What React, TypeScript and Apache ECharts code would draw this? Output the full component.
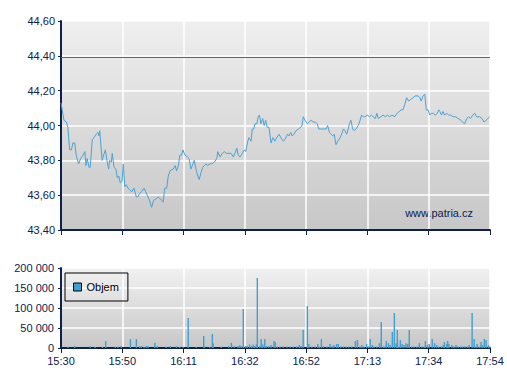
import React, { useEffect, useRef } from "react";
import * as echarts from "echarts";

const timeLabels = ["15:30", "15:50", "16:11", "16:32", "16:52", "17:13", "17:34", "17:54"];
const sessionMinutes = 144;
const prevClose = 44.39;
const watermark = "www.patria.cz";
const volumeName = "Objem";

// minutes after 15:30
const priceTimes = [
  0, 1.0, 1.8, 2.3, 2.9, 3.5, 4.0, 4.6, 5.1, 5.9, 6.6, 7.4, 8.0, 8.4, 8.8, 9.4, 9.8, 10.5, 11.1, 11.8,
  12.4, 12.7, 13.0, 13.8, 14.3, 14.9, 15.4, 16.0, 16.3, 16.9, 17.2, 17.8, 18.4, 18.9, 19.4, 19.9, 20.5, 20.9, 21.4, 21.9,
  22.5, 23.1, 23.8, 24.5, 25.3, 25.8, 26.4, 27.0, 27.9, 28.4, 29.2, 29.9, 30.4, 31.1, 32.0, 32.6, 33.2, 33.9, 34.3, 34.8,
  35.5, 36.0, 36.6, 37.7, 38.3, 38.8, 39.4, 39.9, 40.5, 40.9, 41.6, 42.4, 43.0, 43.6, 44.1, 44.7, 45.3, 45.9, 46.4, 47.0,
  47.6, 48.1, 48.7, 49.2, 50.0, 50.6, 51.5, 52.3, 52.6, 53.4, 54.1, 54.8, 55.6, 56.4, 57.1, 57.8, 58.4, 59.0, 59.5, 60.1,
  60.9, 61.5, 62.0, 62.7, 63.1, 63.8, 64.2, 64.7, 65.1, 65.7, 66.2, 66.6, 67.1, 67.7, 68.2, 68.7, 69.2, 69.8, 70.5, 71.1,
  71.8, 72.4, 73.2, 73.8, 74.6, 75.2, 76.0, 76.5, 77.1, 77.6, 78.2, 78.9, 79.7, 80.5, 80.9, 81.3, 81.9, 82.7, 83.3, 84.0,
  84.7, 85.4, 86.0, 86.5, 87.5, 88.3, 89.0, 89.5, 90.1, 90.6, 91.2, 91.7, 92.3, 92.9, 93.7, 94.2, 94.8, 95.3, 95.9, 96.4,
  96.8, 97.3, 97.9, 98.4, 99.0, 99.8, 100.4, 100.9, 101.5, 102.1, 102.8, 103.5, 104.2, 104.8, 105.5, 106.0, 106.5, 107.3, 108.1, 108.9,
  109.5, 110.3, 111.1, 112.0, 112.8, 113.5, 114.2, 114.8, 115.4, 116.0, 116.7, 117.4, 118.2, 118.9, 119.8, 120.5, 120.9, 121.5, 122.1, 122.6,
  123.2, 123.8, 124.3, 125.0, 125.6, 126.3, 126.8, 127.2, 127.7, 128.2, 128.8, 129.5, 130.1, 130.8, 131.6, 132.4, 133.3, 134.2, 134.8, 135.5,
  136.2, 136.9, 137.5, 138.2, 138.9, 139.5, 140.5, 141.3, 142.0, 142.7, 143.3, 143.9,
];
const priceValues = [
  44.13, 44.03, 44.02, 43.99, 43.86, 43.86, 43.9, 43.9, 43.83, 43.78, 43.81, 43.83, 43.85, 43.77, 43.81, 43.76, 43.76, 43.92, 43.93, 43.95,
  43.96, 43.94, 43.97, 43.8, 43.83, 43.86, 43.8, 43.75, 43.8, 43.79, 43.84, 43.76, 43.75, 43.7, 43.71, 43.67, 43.68, 43.78, 43.65, 43.66,
  43.64, 43.63, 43.62, 43.64, 43.59, 43.59, 43.61, 43.62, 43.64, 43.62, 43.59, 43.56, 43.53, 43.57, 43.58, 43.59, 43.58, 43.57, 43.56, 43.64,
  43.64, 43.71, 43.74, 43.75, 43.77, 43.74, 43.77, 43.83, 43.83, 43.86, 43.83, 43.82, 43.81, 43.75, 43.77, 43.8, 43.75, 43.71, 43.69, 43.73,
  43.76, 43.77, 43.78, 43.77, 43.78, 43.78, 43.79, 43.81, 43.85, 43.82, 43.84, 43.85, 43.84, 43.84, 43.84, 43.82, 43.84, 43.87, 43.83, 43.82,
  43.84, 43.86, 43.85, 43.91, 43.93, 43.91, 43.98, 43.98, 44.01, 44.01, 44.05, 44.06, 44.01, 44.04, 44.0, 44.03, 43.99, 43.99, 43.9, 43.93,
  43.91, 43.93, 43.95, 43.93, 43.91, 43.92, 43.95, 43.94, 43.96, 43.94, 43.95, 43.97, 43.98, 43.99, 44.0, 44.05, 44.03, 44.01, 44.02, 44.03,
  44.02, 44.02, 44.01, 43.98, 43.98, 43.98, 43.98, 44.0, 43.96, 43.95, 43.94, 43.95, 43.89, 43.91, 43.93, 43.95, 43.98, 43.97, 43.95, 43.98,
  44.01, 44.03, 43.98, 43.97, 43.98, 44.0, 44.03, 44.06, 44.05, 44.05, 44.06, 44.05, 44.06, 44.05, 44.04, 44.07, 44.04, 44.05, 44.06, 44.05,
  44.06, 44.05, 44.06, 44.05, 44.07, 44.08, 44.09, 44.09, 44.12, 44.16, 44.14, 44.15, 44.16, 44.17, 44.17, 44.16, 44.14, 44.17, 44.18, 44.09,
  44.09, 44.06, 44.07, 44.07, 44.06, 44.07, 44.09, 44.08, 44.06, 44.08, 44.06, 44.07, 44.06, 44.06, 44.05, 44.05, 44.04, 44.03, 44.02, 44.01,
  44.04, 44.05, 44.04, 44.06, 44.07, 44.05, 44.05, 44.04, 44.02, 44.03, 44.04, 44.05,
];

const volTimes = [
  2.3, 4.6, 9.8, 11.5, 13.9, 15.0, 18.2, 19.1, 20.2, 23.3, 25.3, 26.4, 27.0, 27.9, 28.6, 29.2, 31.5, 32.3, 35.3, 36.7,
  38.7, 39.8, 41.0, 42.7, 45.4, 47.9, 48.2, 49.9, 50.8, 51.1, 53.8, 56.3, 57.2, 58.1, 59.4, 60.0, 60.5, 61.2, 61.9, 62.5,
  63.3, 63.9, 64.5, 65.0, 65.6, 65.9, 66.7, 67.2, 67.7, 68.4, 68.9, 69.7, 70.5, 71.5, 71.9, 72.6, 73.5, 74.6, 75.8, 76.9,
  78.0, 79.1, 80.0, 80.6, 81.3, 82.7, 83.2, 84.2, 85.3, 86.2, 86.7, 87.4, 88.1, 89.2, 90.3, 91.0, 91.6, 92.5, 93.1, 93.9,
  94.8, 95.7, 96.6, 97.6, 98.8, 99.5, 100.4, 101.0, 101.7, 102.6, 103.2, 103.8, 104.5, 105.1, 106.0, 106.9, 107.5, 108.2, 108.7, 109.2,
  109.9, 110.5, 111.2, 111.9, 112.5, 112.9, 113.4, 113.9, 114.5, 115.1, 115.8, 116.4, 116.9, 117.7, 118.5, 119.4, 120.3, 121.1, 121.9, 122.3,
  123.0, 123.6, 124.6, 125.4, 126.1, 126.8, 127.7, 128.3, 128.7, 129.5, 129.8, 130.2, 131.2, 131.9, 132.6, 133.4, 134.2, 134.8, 135.6, 136.4,
  137.0, 138.0, 138.7, 139.3, 139.7, 140.4, 141.0, 141.6, 142.1, 142.7, 143.5, 144.0,
];
const volValues = [
  3000, 5000, 5000, 3000, 3000, 17500, 3000, 3000, 5000, 22500, 22500, 5000, 5000, 3000, 5000, 5000, 13000, 5000, 3000, 5000,
  5000, 3000, 3000, 75000, 3000, 30000, 5000, 3000, 35000, 11000, 3000, 5000, 13000, 5000, 5000, 7000, 5000, 97500, 5000, 5000,
  9000, 5000, 9000, 5000, 9000, 175000, 5000, 22500, 9000, 22500, 5000, 5000, 7500, 17500, 15000, 4000, 4000, 4000, 4000, 4000,
  4000, 4000, 7500, 5000, 45000, 105000, 10000, 4000, 4000, 10000, 4000, 22500, 4000, 4000, 10000, 5000, 7500, 10000, 10000, 4000,
  4000, 4000, 4000, 4000, 17500, 20000, 4000, 7500, 4000, 10000, 4000, 22500, 7500, 4000, 4000, 12000, 65000, 4000, 4000, 17500,
  12000, 7500, 40000, 87500, 12000, 45000, 4000, 20000, 10000, 7500, 12000, 10000, 45000, 4000, 4000, 4000, 12000, 4000, 4000, 17500,
  7500, 10000, 22500, 12000, 7500, 4000, 4000, 7500, 15000, 10000, 17500, 10000, 7500, 4000, 7500, 4000, 4000, 4000, 4000, 4000,
  7500, 87500, 22500, 4000, 10000, 4000, 15000, 7500, 22500, 20000, 7500, 4000,
];

const navy = "#0c2150";
const font = 'Arial, "Liberation Sans", sans-serif';

export default function App() {
  const ref = useRef<HTMLDivElement>(null);
  useEffect(() => {
    if (!ref.current) return;
    const chart = echarts.init(ref.current, undefined, { renderer: "svg" });
    const step = sessionMinutes / (timeLabels.length - 1);
    const fmtTime = (v: number) => timeLabels[Math.round(v / step)] ?? "";
    const grad = (a: string, b: string) =>
      new echarts.graphic.LinearGradient(0, 0, 0, 1, [
        { offset: 0, color: a },
        { offset: 1, color: b },
      ]);
    const xBase = {
      type: "value",
      min: 0,
      max: sessionMinutes,
      interval: step,
      axisLine: { show: true, onZero: false, lineStyle: { color: navy, width: 2 } },
      axisTick: { show: true, length: 5, lineStyle: { color: navy, width: 1 } },
      splitLine: { show: true, lineStyle: { color: "#ffffff", width: 1.5 } },
    };
    const yBase = {
      type: "value",
      axisLine: { show: true, onZero: false, lineStyle: { color: navy, width: 2 } },
      axisTick: { show: true, length: 3, lineStyle: { color: navy, width: 1 } },
      splitLine: { show: true, lineStyle: { color: "#ffffff", width: 1.5 } },
    };
    chart.setOption({
      animation: false,
      textStyle: { fontFamily: font },
      grid: [
        { left: 61, right: 17, top: 21, height: 209, show: true, borderWidth: 0, backgroundColor: grad("#efefef", "#c7c7c7") },
        { left: 61, right: 17, top: 268, height: 80, show: true, borderWidth: 0, backgroundColor: grad("#f1f1f1", "#c7c7c7") },
      ],
      xAxis: [
        { ...xBase, gridIndex: 0, axisLabel: { show: false } },
        {
          ...xBase,
          gridIndex: 1,
          axisLabel: { show: true, formatter: fmtTime, color: navy, fontSize: 11, fontFamily: font, margin: 7 },
        },
      ],
      yAxis: [
        {
          ...yBase,
          gridIndex: 0,
          min: 43.4,
          max: 44.6,
          interval: 0.2,
          axisLabel: {
            formatter: (v: number) => v.toFixed(2).replace(".", ","),
            color: navy,
            fontSize: 11,
            fontFamily: font,
            margin: 6,
          },
        },
        {
          ...yBase,
          gridIndex: 1,
          min: 0,
          max: 200000,
          interval: 50000,
          axisLabel: {
            formatter: (v: number) => String(Math.round(v)).replace(/\B(?=(\d{3})+(?!\d))/g, " "),
            color: navy,
            fontSize: 11,
            fontFamily: font,
            margin: 7,
          },
        },
      ],
      legend: {
        data: [volumeName],
        left: 65,
        top: 273,
        padding: [8, 9, 8, 8],
        borderColor: "#000",
        borderWidth: 1,
        itemWidth: 8,
        itemHeight: 8,
        icon: "rect",
        itemStyle: { borderColor: "#000", borderWidth: 1 },
        textStyle: { color: "#000", fontSize: 11, lineHeight: 12, fontFamily: font },
        selectedMode: false,
      },
      series: [
        {
          type: "line",
          xAxisIndex: 0,
          yAxisIndex: 0,
          data: priceTimes.map((t, i) => [t, priceValues[i]]),
          showSymbol: false,
          symbol: "none",
          lineStyle: { color: "#4aa3d3", width: 1 },
          markLine: {
            silent: true,
            symbol: "none",
            label: { show: false },
            lineStyle: { color: "#c43a3a", width: 1, type: "solid" },
            data: [{ yAxis: prevClose }],
          },
        },
        {
          name: volumeName,
          type: "bar",
          xAxisIndex: 1,
          yAxisIndex: 1,
          data: volTimes.map((t, i) => [t, volValues[i]]),
          barWidth: 1.4,
          itemStyle: { color: "#3d9fd2" },
        },
      ],
      graphic: [
        {
          type: "text",
          right: 34,
          top: 207,
          style: { text: watermark, font: `11px ${font}`, fill: navy },
        },
      ],
    });
    return () => chart.dispose();
  }, []);
  return <div ref={ref} style={{ position: "absolute", left: 0, top: 0, width: 507, height: 380 }} />;
}
